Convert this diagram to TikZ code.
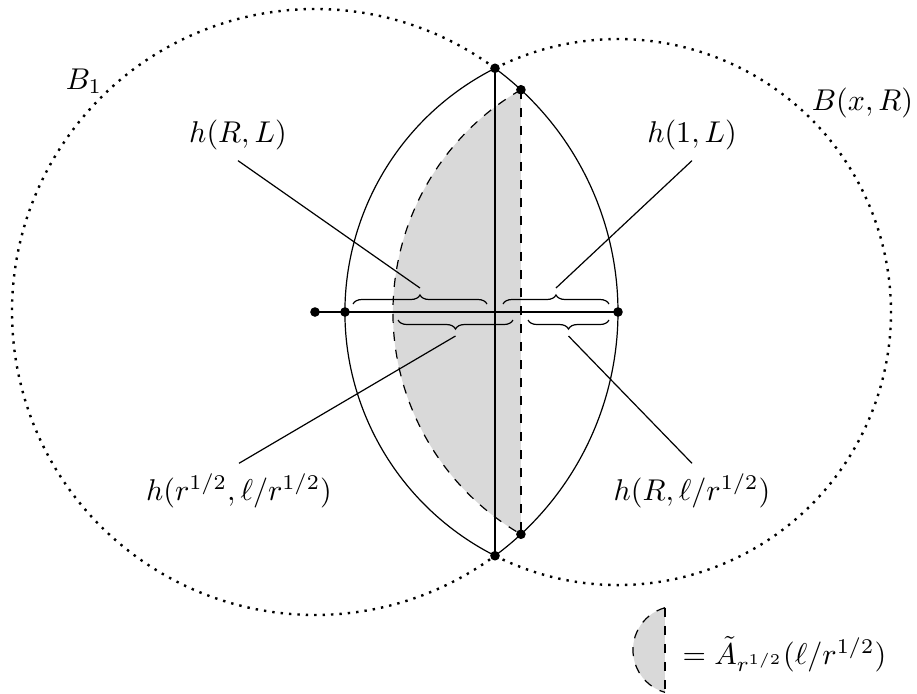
\documentclass[tikz,border=0pt]{standalone}
\usetikzlibrary{decorations.pathreplacing}
\tikzset{
  brc/.style={decorate,decoration={brace,amplitude=3pt}},
  ball/.style={thick,dotted},
}
\begin{document}
\begin{tikzpicture}[x=1.17cm,y=1.17cm]
\useasboundingbox (-3.15,-3.81) rectangle (6.02,3.12);
\coordinate (o) at (0,0);
\coordinate (p) at (0.30,0);
\coordinate (x) at (3.03,0);
\coordinate (top) at (1.8002,2.4373);
\coordinate (bot) at (1.8002,-2.4373);
\coordinate (stop) at (2.0595,2.2225);
\coordinate (sbot) at (2.0595,-2.2225);

\fill[gray!30] (stop) arc[start angle=120.14,end angle=239.86,radius=2.57] -- cycle;
\draw[ball] (top) arc[start angle=53.55,end angle=306.45,radius=3.03];
\draw (bot) arc[start angle=-53.55,end angle=53.55,radius=3.03];
\draw[ball] (bot) arc[start angle=-116.77,end angle=116.77,radius=2.73];
\draw (top) arc[start angle=116.77,end angle=243.23,radius=2.73];
\draw[dashed] (stop) arc[start angle=120.14,end angle=239.86,radius=2.57];
\draw[dashed] (stop) -- (sbot);
\draw (top) -- (bot);
\draw (o) -- (x);

\draw[brc] (0.38,0.08) -- (1.72,0.08);
\draw[brc] (1.88,0.08) -- (2.94,0.08);
\draw[brc] (1.98,-0.08) -- (0.83,-0.08);
\draw[brc] (2.94,-0.08) -- (2.13,-0.08);
\coordinate (t1) at (1.05,0.24);
\coordinate (t2) at (2.41,0.24);
\coordinate (t3) at (1.405,-0.24);
\coordinate (t4) at (2.535,-0.24);

\node (lRL) at (-0.77,1.77) {$h(R,L)$};
\node (l1L) at (3.77,1.77) {$h(1,L)$};
\node (lrl) at (-0.76,-1.79) {$h(r^{1/2},\ell/r^{1/2})$};
\node (lRl) at (3.77,-1.79) {$h(R,\ell/r^{1/2})$};
\draw (lRL.south) -- (t1);
\draw (l1L.south) -- (t2);
\draw (lrl.north) -- (t3);
\draw (lRl.north) -- (t4);

\node (bone) at (-2.31,2.31) {$B_1$};
\node (bxr) at (5.475,2.09) {$B(x,R)$};

\foreach \c in {o,p,x,top,bot,stop,sbot}
  \fill (\c) circle (1.6pt);

\coordinate (ltop) at (3.50,-2.957);
\coordinate (lbot) at (3.50,-3.803);
\fill[gray!30] (ltop) arc[start angle=105.8,end angle=254.2,radius=0.44] -- cycle;
\draw[dashed] (ltop) arc[start angle=105.8,end angle=254.2,radius=0.44];
\draw[dashed] (ltop) -- (lbot);
\node[anchor=west] (leg) at (3.57,-3.42) {$=\tilde{A}_{r^{1/2}}(\ell/r^{1/2})$};
\end{tikzpicture}
\end{document}
